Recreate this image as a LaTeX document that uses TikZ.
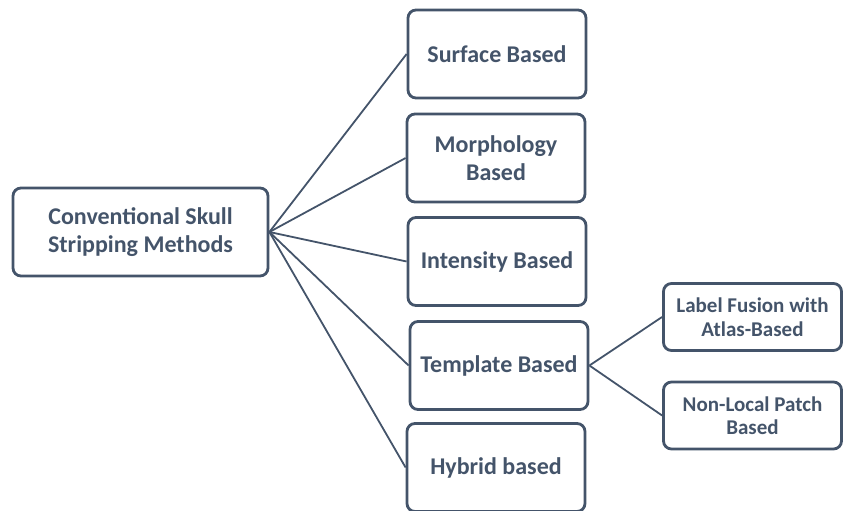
\documentclass[tikz,border=0pt]{standalone}
\usepackage{fontspec}
\setmainfont{Carlito}
\definecolor{slate}{HTML}{44546A}
\begin{document}
\begin{tikzpicture}[x=1pt,y=-1pt,
  box/.style={draw=slate, line width=2.8pt, rounded corners=8pt, fill=white,
    text=slate, font=\bfseries\fontsize{24}{27.5}\selectfont, align=center,
    minimum width=178pt, minimum height=88pt, inner sep=2pt},
  sbox/.style={box, font=\bfseries\fontsize{21}{23.5}\selectfont,
    minimum width=178pt, minimum height=67pt},
  link/.style={draw=slate, line width=1.8pt}]
\useasboundingbox (0,0) rectangle (843,511);
\node[box, minimum width=255pt] (main) at (140.5,232) {Conventional Skull\\Stripping Methods};
\node[box] (surf) at (497,54) {Surface Based};
\node[box] (morph) at (496,158) {Morphology\\Based};
\node[box] (inten) at (497,261.5) {Intensity Based};
\node[box] (templ) at (499,365.5) {Template Based};
\node[box] (hyb) at (496,467.5) {Hybrid based};
\node[sbox] (label) at (752.5,317) {Label Fusion with\\Atlas-Based};
\node[sbox] (patch) at (752.5,415.5) {Non-Local Patch\\Based};
\foreach \t in {surf,morph,inten,templ,hyb}
  \draw[link] (main.east) -- (\t.west);
\draw[link] (templ.east) -- (label.west);
\draw[link] (templ.east) -- (patch.west);
\end{tikzpicture}
\end{document}
